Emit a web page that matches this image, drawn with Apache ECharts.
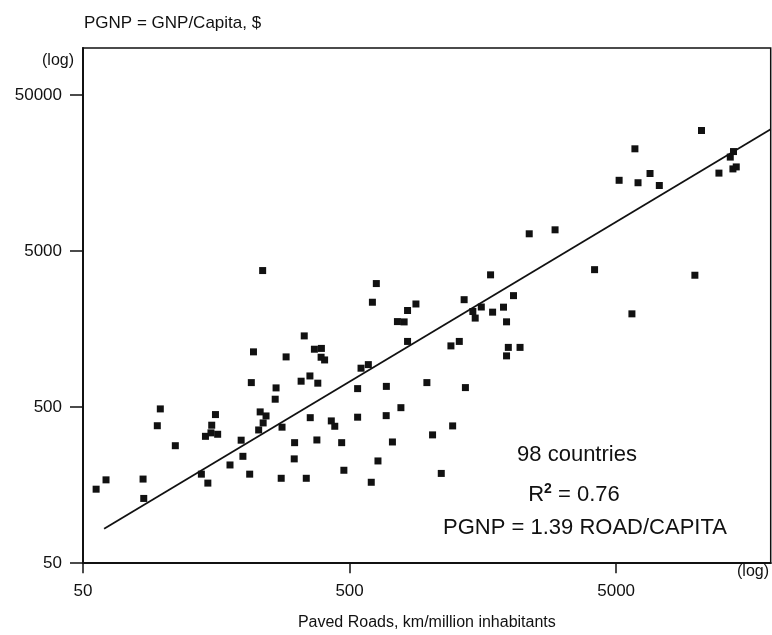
<!DOCTYPE html>
<html>
<head>
<meta charset="utf-8">
<title>PGNP vs paved roads</title>
<script src="https://cdn.jsdelivr.net/npm/echarts@6/dist/echarts.min.js"></script>
<style>
  html, body { margin: 0; padding: 0; background: #fff; }
  #main { width: 772px; height: 635px; }
</style>
</head>
<body>
<div id="main"></div>
<script>
// paved roads, km per million inhabitants (x, log)
var roadKm = [236, 630, 609, 825, 887, 756, 801, 825, 338, 218,
  289, 369, 392, 391, 403, 214, 329, 355, 380, 265,
  263, 552, 588, 536, 687, 97.5, 95, 157, 152, 144,
  151, 160, 231, 243, 237, 228, 279, 356, 427, 440,
  536, 686, 779, 111, 196, 199, 311, 377, 467, 724,
  310, 639, 178, 139, 147, 211, 277, 344, 476, 603,
  56, 61, 84, 84.5, 10450, 5880, 13780, 13400, 12150, 13710,
  14110, 5130, 6040, 6700, 7260, 2360, 2950, 4150, 9870, 1690,
  5730, 1345, 2060, 1450, 1480, 1560, 1720, 1890, 1940, 1200,
  1290, 1970, 2180, 1940, 975, 1360, 1218, 1024, 1104]
// GNP per capita, $ (y, log)
var pgnp = [3750, 3095, 2350, 2080, 2290, 1766, 1758, 1318, 1430, 1130,
  1049, 1175, 1189, 1044, 1003, 718, 733, 792, 712, 664,
  562, 888, 936, 657, 679, 487, 380, 448, 383, 325,
  342, 335, 466, 439, 396, 357, 372, 428, 408, 377,
  431, 441, 496, 283, 307, 242, 296, 308, 296, 299,
  233, 226, 213, 186, 163, 186, 175, 175, 197, 165,
  149, 171, 173, 130, 29600, 22600, 21700, 20000, 15790, 16800,
  17300, 14200, 13700, 15700, 13150, 6450, 6840, 3800, 3500, 3520,
  1980, 2440, 2590, 2050, 1860, 2190, 2030, 2185, 1760, 1234,
  1318, 1207, 1207, 1065, 718, 667, 379, 332, 188]
// fitted line end points
var fitX = [60, 19000]
var fitY = [83, 30200]
// tick labels on both axes
var tickValues = [50, 500, 5000, 50000]

var ink = '#111'
var font = "'Liberation Sans', Arial, sans-serif"

var points = roadKm.map(function (x, i) { return [x, pgnp[i]] })
var fitLine = fitX.map(function (x, i) { return [x, fitY[i]] })

function fmt(v) { return String(Math.round(v)) }

var option = {
  animation: false,
  backgroundColor: '#fff',
  title: {
    text: 'PGNP = GNP/Capita, $',
    left: 79,
    top: 10,
    textStyle: { color: ink, fontSize: 17, fontWeight: 'normal', fontFamily: font }
  },
  grid: {
    left: 83,
    right: 1.3,
    top: 48,
    bottom: 71.8,
    show: true,
    borderColor: ink,
    borderWidth: 1.5,
    outerBoundsMode: 'none'
  },
  xAxis: {
    type: 'log',
    logBase: 10,
    min: 50,
    max: 19000,
    name: 'Paved Roads, km/million inhabitants',
    nameLocation: 'middle',
    nameGap: 51,
    nameTextStyle: { color: ink, fontSize: 16, fontFamily: font },
    axisLine: { lineStyle: { color: ink, width: 2 } },
    axisTick: { length: 10, lineStyle: { color: ink, width: 1.5 }, customValues: tickValues },
    axisLabel: { color: ink, fontSize: 17, fontFamily: font, margin: 20, customValues: tickValues, formatter: fmt },
    splitLine: { show: false },
    minorTick: { show: false }
  },
  yAxis: {
    type: 'log',
    logBase: 10,
    min: 50,
    max: 100000,
    axisLine: { lineStyle: { color: ink, width: 2 } },
    axisTick: { length: 13, lineStyle: { color: ink, width: 1.5 }, customValues: tickValues },
    axisLabel: { color: ink, fontSize: 17, fontFamily: font, margin: 21, customValues: tickValues, formatter: fmt },
    splitLine: { show: false },
    minorTick: { show: false }
  },
  graphic: [
    { type: 'text', left: 42, top: 53, style: { text: '(log)', fill: ink, font: '16px ' + font } },
    { type: 'text', left: 737, top: 564, style: { text: '(log)', fill: ink, font: '16px ' + font } },
    { type: 'text', x: 577, y: 455, style: { text: '98 countries', fill: ink, font: '22px ' + font, textAlign: 'center', textVerticalAlign: 'middle' } },
    {
      type: 'text', x: 574, y: 495,
      style: {
        text: '{a|R}{b|2}{a| = 0.76}',
        textAlign: 'center',
        textVerticalAlign: 'middle',
        rich: {
          a: { fill: ink, fontSize: 22, fontFamily: font, lineHeight: 26 },
          b: { fill: ink, fontSize: 14, fontWeight: 'bold', fontFamily: font, verticalAlign: 'top', lineHeight: 14 }
        }
      }
    },
    { type: 'text', x: 585, y: 528, style: { text: 'PGNP = 1.39 ROAD/CAPITA', fill: ink, font: '22px ' + font, textAlign: 'center', textVerticalAlign: 'middle' } }
  ],
  series: [
    {
      name: 'countries',
      type: 'scatter',
      symbol: 'rect',
      symbolSize: 7,
      itemStyle: { color: ink, opacity: 1 },
      data: points
    },
    {
      name: 'fit',
      type: 'line',
      showSymbol: false,
      lineStyle: { color: ink, width: 1.8 },
      data: fitLine
    }
  ]
}

var myChart = echarts.init(document.getElementById('main'))
myChart.setOption(option)
</script>
</body>
</html>
